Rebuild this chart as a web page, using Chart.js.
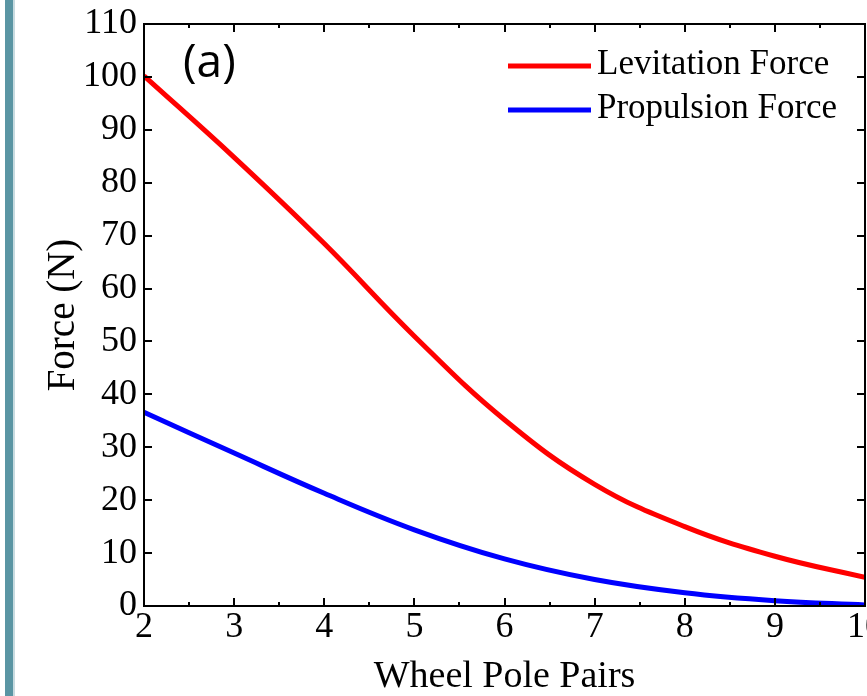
<!DOCTYPE html>
<html>
<head>
<meta charset="utf-8">
<script src="https://cdn.jsdelivr.net/npm/chart.js@4.4.0/dist/chart.umd.min.js"></script>
<style>
  html, body { margin: 0; padding: 0; background: #fff; }
  #wrap { position: relative; width: 867px; height: 696px; }
  #bar { position: absolute; left: 5px; top: 0; width: 8px; height: 696px; background: #5a95a3; border-right: 2px solid #c8dbe0; }
  canvas { position: absolute; left: 0; top: 0; }
</style>
</head>
<body>
<div id="wrap">
  <canvas id="ForceChart" width="867" height="696"></canvas>
  <div id="bar"></div>
</div>
<script>
var PolePairs = [2, 3, 4, 5, 6, 7, 8, 9, 10];
var LevValue = [100.2, 84.8, 68.5, 51.0, 35.2, 23.0, 15.0, 9.4, 5.4];
var PropValue = [36.6, 28.9, 21.3, 14.4, 8.9, 5.0, 2.5, 1.0, 0.2];
var SeriesLabel = ["Levitation Force", "Propulsion Force"];
var XTickLabel = [2, 3, 4, 5, 6, 7, 8, 9, 10];
var YTickLabel = [0, 10, 20, 30, 40, 50, 60, 70, 80, 90, 100, 110];

var serif = "'Liberation Serif', 'Times New Roman', serif";

function toPoints(vals) {
	return PolePairs.map(function(p, i) { return {x: p, y: vals[i]}; });
}

// box frame, inward ticks on all sides, legend and panel letter
var FramePlugin = {
	id: "framePlugin",
	afterDraw: function(chart) {
		var ctx = chart.ctx, a = chart.chartArea;
		var xs = chart.scales.x, ys = chart.scales.y;
		ctx.save();
		ctx.strokeStyle = "#000";
		ctx.lineWidth = 2;
		ctx.strokeRect(a.left, a.top, a.right - a.left, a.bottom - a.top);
		ctx.beginPath();
		xs.ticks.forEach(function(t) {
			var px = Math.round(xs.getPixelForValue(t.value));
			var len = XTickLabel.indexOf(t.value) >= 0 ? 8 : 4;
			ctx.moveTo(px, a.bottom); ctx.lineTo(px, a.bottom - len);
			ctx.moveTo(px, a.top); ctx.lineTo(px, a.top + len);
		});
		ys.ticks.forEach(function(t) {
			var py = Math.round(ys.getPixelForValue(t.value));
			var len = YTickLabel.indexOf(t.value) >= 0 ? 8 : 4;
			ctx.moveTo(a.left, py); ctx.lineTo(a.left + len, py);
			ctx.moveTo(a.right, py); ctx.lineTo(a.right - len, py);
		});
		ctx.stroke();

		// legend
		ctx.font = "35px " + serif;
		ctx.textBaseline = "middle";
		ctx.textAlign = "left";
		chart.data.datasets.forEach(function(ds, i) {
			var y = 66 + i * 44;
			ctx.strokeStyle = ds.borderColor;
			ctx.lineWidth = 5;
			ctx.beginPath();
			ctx.moveTo(508, y); ctx.lineTo(591, y);
			ctx.stroke();
			ctx.fillStyle = "#000";
			ctx.fillText(ds.label, 597, y - 1);
		});

		ctx.font = "46px 'Open Sans', sans-serif";
		ctx.textBaseline = "alphabetic";
		ctx.fillText("(a)", 183, 77);
		ctx.restore();
	}
};

var ForceCtx = document.getElementById("ForceChart").getContext("2d");
var ForceChart = new Chart(ForceCtx, {
	type: "line",
	data: {
		datasets: [{
			label: SeriesLabel[0],
			data: toPoints(LevValue),
			borderColor: "#ff0000",
			backgroundColor: "#ff0000",
			borderWidth: 5,
			pointRadius: 0,
			tension: 0.4
		}, {
			label: SeriesLabel[1],
			data: toPoints(PropValue),
			borderColor: "#0000ff",
			backgroundColor: "#0000ff",
			borderWidth: 5,
			pointRadius: 0,
			tension: 0.4
		}]
	},
	options: {
		responsive: false,
		animation: false,
		layout: { padding: { top: 24, right: 2, left: 0, bottom: 0 } },
		plugins: { legend: { display: false }, tooltip: { enabled: false } },
		scales: {
			x: {
				type: "linear",
				min: 2, max: 10,
				grid: { display: false, drawTicks: false },
				border: { display: false },
				ticks: {
					stepSize: 0.5, autoSkip: false, maxRotation: 0, padding: 0,
					color: "#000", font: { family: serif, size: 36 },
					callback: function(v) { return XTickLabel.indexOf(v) >= 0 ? v : ""; }
				},
				title: {
					display: true, text: "Wheel Pole Pairs", color: "#000",
					font: { family: serif, size: 38, lineHeight: 1 },
					padding: { top: 0, bottom: 0 }
				},
				afterFit: function(s) { s.height = 90; s.paddingLeft = 0; s.paddingRight = 0; }
			},
			y: {
				min: 0, max: 110,
				grid: { display: false, drawTicks: false },
				border: { display: false },
				ticks: {
					stepSize: 5, padding: 7,
					color: "#000", font: { family: serif, size: 36 },
					callback: function(v) { return YTickLabel.indexOf(v) >= 0 ? v : ""; }
				},
				title: {
					display: true, text: "Force (N)", color: "#000",
					font: { family: serif, size: 39, lineHeight: 1 },
					padding: { top: 44, bottom: 0 }
				},
				afterFit: function(s) { s.width = 144; s.paddingTop = 0; s.paddingBottom = 0; }
			}
		}
	},
	plugins: [FramePlugin]
});
</script>
</body>
</html>
